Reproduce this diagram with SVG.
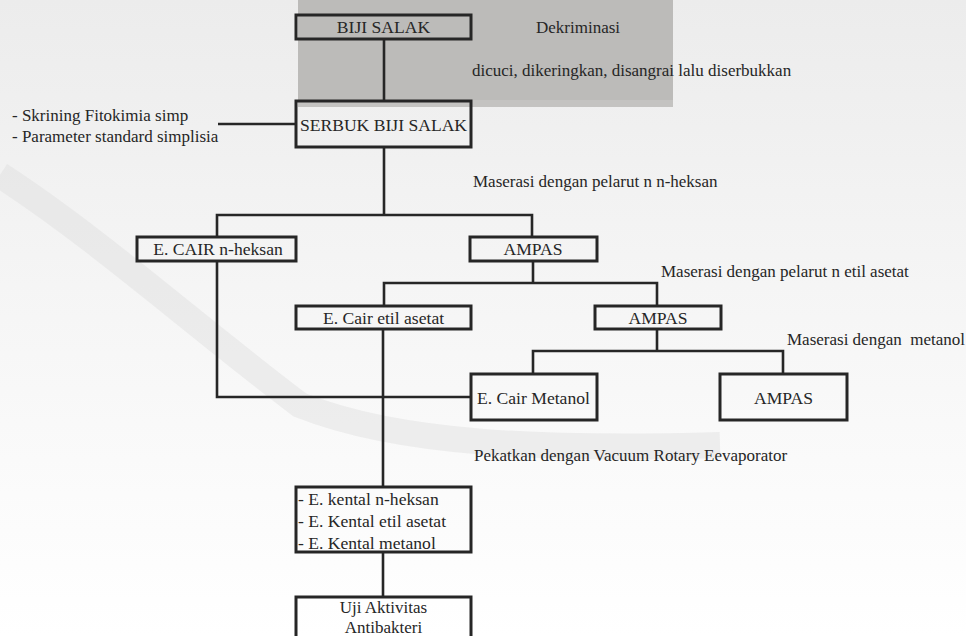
<svg xmlns="http://www.w3.org/2000/svg" width="966" height="636" viewBox="0 0 966 636">
<defs>
<linearGradient id="bg" x1="0" y1="0" x2="0" y2="1">
<stop offset="0" stop-color="#ececec"/>
<stop offset="0.5" stop-color="#f6f6f6"/>
<stop offset="1" stop-color="#ffffff"/>
</linearGradient>
</defs>
<style>
.box{fill:none;stroke:#262626;stroke-width:3}
.ln{fill:none;stroke:#262626;stroke-width:2.6}
.t{font-family:"Liberation Serif","Times New Roman",serif;fill:#262626}
.lb{font-size:17.6px;text-anchor:middle}
.lt{font-size:17.6px}
.an{font-size:17px}
.uj{font-size:17px;text-anchor:middle}
</style>
<rect x="0" y="0" width="966" height="636" fill="url(#bg)"/>
<rect x="298" y="0" width="375" height="107" fill="#c4c3c1"/>
<rect x="298" y="0" width="375" height="100" fill="#bcbbb9"/>
<path d="M0,175 C100,240 200,330 300,405 C400,445 550,450 720,445" fill="none" stroke="#dedede" stroke-width="26" opacity="0.45"/>

<g id="connectors">
<path class="ln" d="M384,39 V101"/>
<path class="ln" d="M218,124 H296"/>
<path class="ln" d="M384,147 V215"/>
<path class="ln" d="M217,237 V215 H532 V237"/>
<path class="ln" d="M533,261 V283"/>
<path class="ln" d="M384,306 V283 H657 V306"/>
<path class="ln" d="M657,329 V351"/>
<path class="ln" d="M533,374 V351 H783 V374"/>
<path class="ln" d="M217,261 V397 H471"/>
<path class="ln" d="M383,329 V487"/>
<path class="ln" d="M383,552 V597"/>
</g>

<g class="t" font-family="Liberation Serif, Times New Roman, serif">
<g id="biji-salak">
<rect class="box" x="296" y="15" width="175" height="24"/>
<text class="lb" x="383.5" y="33">BIJI SALAK</text>
</g>
<g id="dekriminasi">
<text class="an" x="536" y="33">Dekriminasi</text>
</g>
<g id="dicuci">
<text class="an" x="472" y="76">dicuci, dikeringkan, disangrai lalu diserbukkan</text>
</g>
<g id="skrining">
<text class="an" x="12" y="121">- Skrining Fitokimia simp</text>
<text class="an" x="12" y="142">- Parameter standard simplisia</text>
</g>
<g id="serbuk">
<rect class="box" x="296" y="101" width="175" height="46"/>
<text class="lb" x="383.5" y="131">SERBUK BIJI SALAK</text>
</g>
<g id="maserasi-heksan">
<text class="an" x="473" y="187">Maserasi dengan pelarut n n-heksan</text>
</g>
<g id="cair-heksan">
<rect class="box" x="137" y="237" width="159" height="24"/>
<text class="lb" x="218" y="255">E. CAIR n-heksan</text>
</g>
<g id="ampas-1">
<rect class="box" x="470" y="237" width="127" height="24"/>
<text class="lb" x="533" y="255">AMPAS</text>
</g>
<g id="maserasi-etil">
<text class="an" x="661" y="277">Maserasi dengan pelarut n etil asetat</text>
</g>
<g id="cair-etil">
<rect class="box" x="296" y="306" width="175" height="23"/>
<text class="lb" x="383.5" y="324">E. Cair etil asetat</text>
</g>
<g id="ampas-2">
<rect class="box" x="595" y="306" width="126" height="23"/>
<text class="lb" x="658" y="324">AMPAS</text>
</g>
<g id="maserasi-metanol">
<text class="an" x="787" y="345" xml:space="preserve">Maserasi dengan  metanol</text>
</g>
<g id="cair-metanol">
<rect class="box" x="471" y="374" width="126" height="46"/>
<text class="lt" x="477" y="404">E. Cair Metanol</text>
</g>
<g id="ampas-3">
<rect class="box" x="720" y="374" width="127" height="46"/>
<text class="lb" x="783.5" y="404">AMPAS</text>
</g>
<g id="pekatkan">
<text class="an" x="474" y="461">Pekatkan dengan Vacuum Rotary Eevaporator</text>
</g>
<g id="kental">
<rect class="box" x="296" y="487" width="175" height="65"/>
<text class="lt" x="298" y="505">- E. kental n-heksan</text>
<text class="lt" x="298" y="527">- E. Kental etil asetat</text>
<text class="lt" x="298" y="549">- E. Kental metanol</text>
</g>
<g id="uji">
<rect class="box" x="296" y="597" width="175" height="60"/>
<text class="uj" x="383.5" y="613">Uji Aktivitas</text>
<text class="uj" x="383.5" y="633">Antibakteri</text>
</g>
</g>
</svg>
